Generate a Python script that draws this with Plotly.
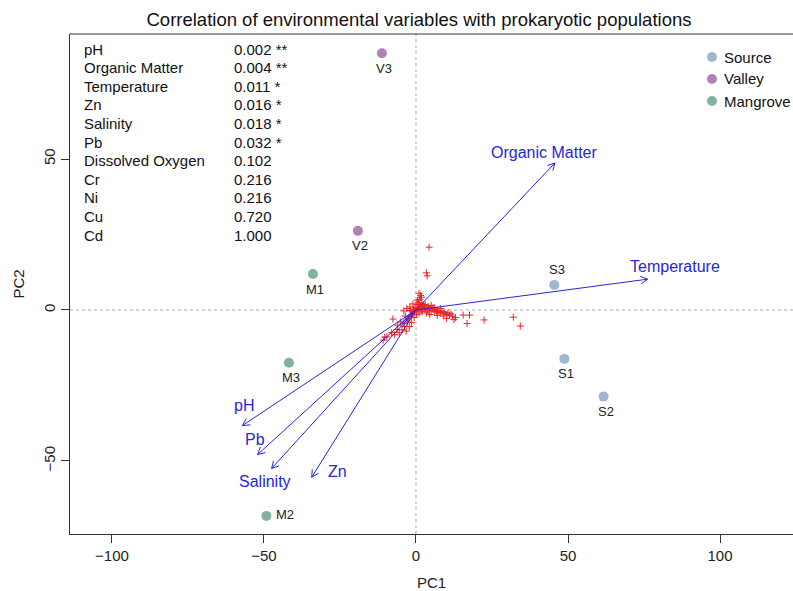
import math
import plotly.graph_objects as go

# ---------------- data ----------------
site_labels = ["S1", "S2", "S3", "V2", "V3", "M1", "M2", "M3"]
site_groups = ["Source", "Source", "Source", "Valley", "Valley", "Mangrove", "Mangrove", "Mangrove"]
site_pc1 = [48.8, 61.7, 45.5, -19.1, -11.2, -33.9, -49.2, -41.8]
site_pc2 = [-16.2, -28.7, 8.3, 26.2, 85.0, 11.9, -68.2, -17.5]

group_names = ["Source", "Valley", "Mangrove"]
group_colors = ["#9fb6d3", "#b182b6", "#7fb39a"]

env_names = ["Organic Matter", "Temperature", "pH", "Pb", "Salinity", "Zn"]
env_pc1 = [45.7, 76.2, -57.1, -52.1, -47.5, -34.3]
env_pc2 = [48.7, 10.2, -38.3, -47.9, -52.5, -55.4]

otu_pc1 = [0.0, 0.5, 1.0, 1.5, -0.5, -1.0, -1.5, -2.0, -2.5, -3.0, 0.8, 1.2, 1.8, 0.3,
           -0.3, 2.0, 2.5, 3.0, 1.0, 1.5, 0.5, -1.0, -2.0, -3.0, -4.0, -1.8, -3.5, -2.8,
           -1.5, -0.6, 0.2, 1.0, 2.0, -4.2, -3.8, 0.6, -0.8, 1.7, 2.2, -1.2,
           2.0, 3.0, 4.0, 4.5, 5.0, 5.5, 6.0, 6.5, 7.0, 7.5, 8.0, 8.5, 9.0, 9.5, 10.0,
           10.5, 11.0, 11.5, 12.0, 13.0, 8.0, 6.0, 4.0, 3.0, 5.0, 9.0, 7.0, 3.5, 4.5,
           10.0, 12.5, 2.7, 3.8, 6.8, 5.3,
           15.5, 17.6, 22.4, 16.8, 32.0, 34.3, 4.3, 3.4, 3.7,
           -5.0, -6.0, -7.6, -6.2, -4.6, -8.0, -9.6, -10.8, -10.3, -7.0, -5.5, -3.2, -2.2]
otu_pc2 = [0.0, 0.3, 0.8, 1.2, -0.4, -1.0, -1.6, -2.2, -2.8, -3.3, 2.5, 3.5, 4.2, 1.8,
           0.9, 2.0, 1.5, 1.0, 5.5, 4.8, 3.2, 2.0, 1.0, 0.5, -0.3, -0.2, -2.0, -4.0,
           -4.2, -2.5, -1.5, -1.0, -0.6, -4.5, -5.5, 0.6, 0.2, -0.3, 0.4, -0.6,
           0.5, 0.2, 0.0, 0.4, -0.3, 0.2, -0.5, 0.0, -0.8, -0.3, -1.0, -0.5, -1.2, -0.8, -1.5,
           -1.0, -1.8, -1.3, -2.0, -2.5, 0.5, 0.8, 1.2, 1.8, 1.5, -2.0, -1.8, -1.0, -1.5,
           -2.8, -3.2, 0.6, 0.1, -0.4, 0.7,
           -1.7, -1.7, -3.3, -4.5, -2.4, -5.3, 20.8, 12.3, 11.3,
           -4.0, -5.0, -3.0, -6.5, -6.6, -7.5, -8.9, -10.0, -9.0, -8.2, -7.5, -7.0, -5.5]

table_vars = ["pH", "Organic Matter", "Temperature", "Zn", "Salinity", "Pb",
              "Dissolved Oxygen", "Cr", "Ni", "Cu", "Cd"]
table_p = ["0.002 **", "0.004 **", "0.011 *", "0.016 *", "0.018 *", "0.032 *",
           "0.102", "0.216", "0.216", "0.720", "1.000"]

# ---------------- layout geometry ----------------
W, H = 793, 591
ML, MR, MT, MB = 70, 0, 34, 57
PW, PH = W - ML - MR, H - MT - MB
XR = [-113.8, 124.0]
YR = [-74.2, 91.4]
SX = PW / (XR[1] - XR[0])
SY = PH / (YR[1] - YR[0])

FONT = "Liberation Sans, Arial, Helvetica, sans-serif"
BLUE = "#2626d9"
RED = "#f02424"

def px_x(px):
    return (px - ML) / PW

def px_y(py):
    return (H - MB - py) / PH

fig = go.Figure()

# OTU crosses
fig.add_trace(go.Scatter(
    x=otu_pc1, y=otu_pc2, mode="markers",
    marker=dict(symbol="cross-thin-open", size=5, color=RED, line=dict(color=RED, width=1)),
    showlegend=False, hoverinfo="skip"))

# env arrows (lines + open heads computed in pixel space)
ax, ay = [], []
head_len, head_ang = 8.0, math.radians(28)
for tx, ty in zip(env_pc1, env_pc2):
    ax += [0, tx, None]
    ay += [0, ty, None]
    dx, dy = tx * SX, ty * SY
    n = math.hypot(dx, dy)
    ux, uy = dx / n, dy / n
    for s in (1, -1):
        c, si = math.cos(s * head_ang), math.sin(s * head_ang)
        rx, ry = ux * c - uy * si, ux * si + uy * c
        ax += [tx - head_len * rx / SX, tx, None]
        ay += [ty - head_len * ry / SY, ty, None]
fig.add_trace(go.Scatter(x=ax, y=ay, mode="lines", line=dict(color=BLUE, width=1),
                         showlegend=False, hoverinfo="skip"))

# arrow labels
label_shift = {"Organic Matter": (-11, 10), "Temperature": (27, 13), "pH": (2, 20),
               "Pb": (-3, 15), "Salinity": (-7, -13), "Zn": (26, 6)}
for name, tx, ty in zip(env_names, env_pc1, env_pc2):
    xs, ys = label_shift[name]
    fig.add_annotation(x=tx, y=ty, text=name, showarrow=False, xshift=xs, yshift=ys,
                       font=dict(family=FONT, size=16, color=BLUE))

# site points
for g, col in zip(group_names, group_colors):
    idx = [i for i, gg in enumerate(site_groups) if gg == g]
    fig.add_trace(go.Scatter(
        x=[site_pc1[i] for i in idx], y=[site_pc2[i] for i in idx], mode="markers",
        marker=dict(size=10, color=col), name=g, showlegend=False, hoverinfo="skip"))

# site labels
for lab, x, y in zip(site_labels, site_pc1, site_pc2):
    if lab == "S3":
        xs, ys, xa = 3, 15, "center"
    elif lab == "M2":
        xs, ys, xa = 8, 1, "left"
    else:
        xs, ys, xa = 2, -15, "center"
    fig.add_annotation(x=x, y=y, text=lab, showarrow=False, xshift=xs, yshift=ys,
                       xanchor=xa, font=dict(family=FONT, size=13, color="#222"))

# zero reference lines
fig.add_shape(type="line", xref="x", yref="paper", x0=0, x1=0, y0=0, y1=1,
              line=dict(color="#aaa", width=1, dash="dot"), layer="below")
fig.add_shape(type="line", xref="paper", yref="y", x0=0, x1=1, y0=0, y1=0,
              line=dict(color="#aaa", width=1, dash="dot"), layer="below")
# top border
fig.add_shape(type="line", xref="paper", yref="paper", x0=0, x1=1, y0=1, y1=1,
              line=dict(color="#333", width=1))

# table of p-values
for i, (v, p) in enumerate(zip(table_vars, table_p)):
    yy = px_y(49 + 18.6 * i)
    fig.add_annotation(xref="paper", yref="paper", x=px_x(82), y=yy, text=v,
                       showarrow=False, xanchor="left", yanchor="middle",
                       font=dict(family=FONT, size=15, color="#111"))
    fig.add_annotation(xref="paper", yref="paper", x=px_x(232), y=yy, text=p,
                       showarrow=False, xanchor="left", yanchor="middle",
                       font=dict(family=FONT, size=15, color="#111"))

# manual legend
for i, (g, col) in enumerate(zip(group_names, group_colors)):
    cy = 57 + 22 * i
    fig.add_shape(type="circle", xref="paper", yref="paper", xsizemode="pixel",
                  ysizemode="pixel", xanchor=px_x(712), yanchor=px_y(cy),
                  x0=-5, x1=5, y0=-5, y1=5, fillcolor=col, line=dict(width=0))
    fig.add_annotation(xref="paper", yref="paper", x=px_x(722), y=px_y(cy), text=g,
                       showarrow=False, xanchor="left", yanchor="middle",
                       font=dict(family=FONT, size=15, color="#111"))

fig.update_layout(
    width=W, height=H,
    margin=dict(l=ML, r=MR, t=MT, b=MB, pad=0),
    paper_bgcolor="white", plot_bgcolor="white",
    font=dict(family=FONT, size=15, color="#222"),
    title=dict(text="Correlation of environmental variables with prokaryotic populations",
               x=419 / W, xanchor="center", y=1 - 20 / H, yanchor="middle",
               font=dict(family=FONT, size=18.5, color="#111")),
    xaxis=dict(range=XR, showgrid=False, zeroline=False, showline=True,
               linecolor="#333", linewidth=1, ticks="outside", ticklen=8,
               tickcolor="#333", tickvals=[-100, -50, 0, 50, 100],
               ticktext=["\u2212100", "\u221250", "0", "50", "100"],
               tickfont=dict(family=FONT, size=15, color="#222"),
               title=dict(text="PC1", standoff=16, font=dict(family=FONT, size=15, color="#222"))),
    yaxis=dict(range=YR, showgrid=False, zeroline=False, showline=True,
               linecolor="#333", linewidth=1, ticks="outside", ticklen=8,
               tickcolor="#333", tickvals=[-50, 0, 50],
               ticktext=["\u221250", "0", "50"], tickangle=-90,
               tickfont=dict(family=FONT, size=15, color="#222"),
               title=dict(text="PC2", standoff=12, font=dict(family=FONT, size=15, color="#222"))),
)

fig.write_html("out.html")
